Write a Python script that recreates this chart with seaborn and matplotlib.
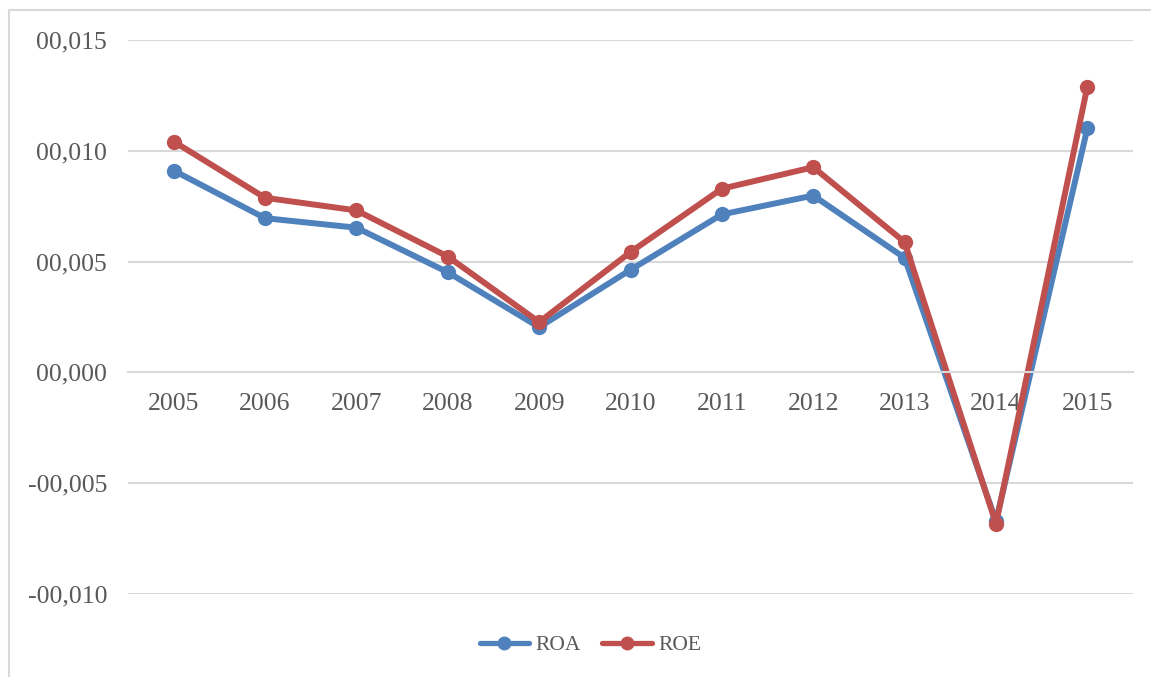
import pandas as pd
import seaborn as sns
import matplotlib.pyplot as plt
from matplotlib.lines import Line2D
from matplotlib.ticker import FuncFormatter

# Data
years = ['2005', '2006', '2007', '2008', '2009', '2010',
         '2011', '2012', '2013', '2014', '2015']
roa = [0.00911, 0.00696, 0.00653, 0.00452, 0.00204, 0.00463,
       0.00713, 0.00798, 0.00517, -0.00672, 0.01101]
roe = [0.01042, 0.00788, 0.00731, 0.00523, 0.00227, 0.00543,
       0.00829, 0.00926, 0.00588, -0.00683, 0.01290]
series_names = ['ROA', 'ROE']
y_ticks = [-0.010, -0.005, 0.0, 0.005, 0.010, 0.015]

# Long format for seaborn
data = pd.DataFrame({
    'pos': list(range(len(years))) * 2,
    'value': roa + roe,
    'series': [series_names[0]] * len(years) + [series_names[1]] * len(years),
})

sns.set_style("white")
plt.rcParams['font.family'] = ['Liberation Serif', 'DejaVu Serif']
text_color = '#595959'
grid_color = '#D9D9D9'

fig = plt.figure(figsize=(11.51, 6.77), dpi=100)
ax = fig.add_axes([0.1112, 0.1226, 0.8732, 0.8183])

sns.lineplot(
    data=data, x='pos', y='value', hue='series',
    palette={'ROA': '#4F81BD', 'ROE': '#C0504D'},
    marker='o', markersize=11, markeredgewidth=0,
    linewidth=4.3, ax=ax, legend=False
)

# Axes limits / ticks
ax.set_xlim(-0.5, len(years) - 0.5)
ax.set_ylim(-0.010, 0.015)
ax.set_xticks(range(len(years)))
ax.set_xticklabels(years)
ax.set_yticks(y_ticks)


def fmt(v, _):
    s = f"{abs(v):06.3f}".replace('.', ',')
    return ('-' if v < -1e-12 else '') + s


ax.yaxis.set_major_formatter(FuncFormatter(fmt))
ax.set_xlabel('')
ax.set_ylabel('')

# Excel-like styling
ax.grid(axis='y', color=grid_color, linewidth=1.5)
ax.set_axisbelow(True)
for side in ['top', 'right', 'left']:
    ax.spines[side].set_visible(False)
ax.spines['bottom'].set_position(('data', 0))
ax.spines['bottom'].set_color(grid_color)
ax.spines['bottom'].set_linewidth(1.5)
ax.tick_params(axis='x', length=0, pad=15, labelsize=18.5, labelcolor=text_color)
ax.tick_params(axis='y', length=0, pad=15, labelsize=18.5, labelcolor=text_color)

# Legend at the bottom
handles = [
    Line2D([0], [0], color='#4F81BD', lw=3.8, marker='o', markersize=10, markeredgewidth=0),
    Line2D([0], [0], color='#C0504D', lw=3.8, marker='o', markersize=10, markeredgewidth=0),
]
leg = fig.legend(handles, series_names, loc='center', bbox_to_anchor=(0.513, 0.047),
                 ncol=2, frameon=False, fontsize=15.5, handlelength=2.3,
                 handletextpad=0.3, columnspacing=1.0)
for t in leg.get_texts():
    t.set_color(text_color)

# Chart-area border (left and top edges visible in the crop)
fig.add_artist(Line2D([9 / 1151, 9 / 1151], [0, 1 - 10 / 677], color=grid_color, lw=1.5))
fig.add_artist(Line2D([9 / 1151, 1], [1 - 10 / 677, 1 - 10 / 677], color=grid_color, lw=1.5))

fig.savefig('out.png', dpi=100)
